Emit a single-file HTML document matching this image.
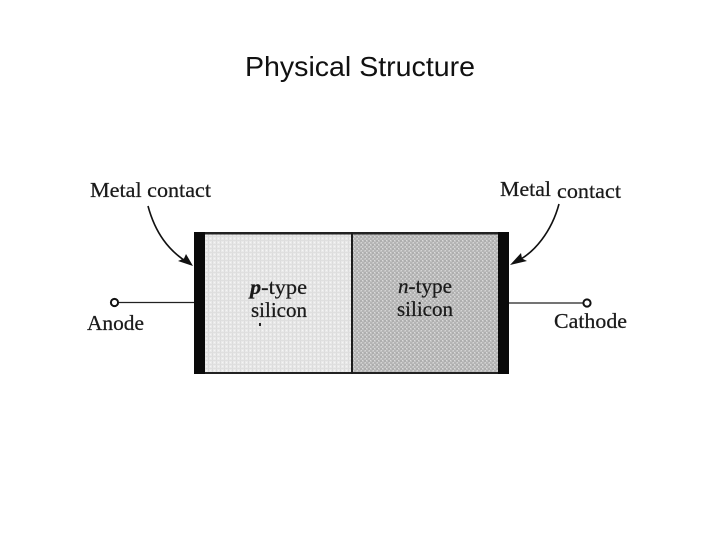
<!DOCTYPE html>
<html>
<head>
<meta charset="utf-8">
<style>
html,body{margin:0;padding:0;background:#fff;}
svg{display:block;}
text{fill:#1a1a1a;}
.s{font-family:"Liberation Serif",serif;font-size:21px;stroke:#1a1a1a;stroke-width:0.25;}
.t{font-family:"Liberation Sans",sans-serif;font-size:28px;fill:#111;}
</style>
</head>
<body>
<svg width="720" height="540" viewBox="0 0 720 540" xmlns="http://www.w3.org/2000/svg">
<defs>
<pattern id="pp" width="4" height="4" patternUnits="userSpaceOnUse">
<rect width="4" height="4" fill="#e9e9e9"/>
<rect width="1" height="4" fill="#dcdcdc"/>
<rect width="4" height="1" fill="#dfdfdf"/>
<rect x="2" y="2" width="1" height="1" fill="#f5f5f5"/>
</pattern>
<pattern id="pn" width="4" height="4" patternUnits="userSpaceOnUse">
<rect width="4" height="4" fill="#c2c2c2"/>
<rect width="2" height="2" fill="#aeaeae"/>
<rect x="2" y="2" width="2" height="2" fill="#b4b4b4"/>
<rect x="2" width="1" height="1" fill="#dadada"/>
<rect y="2" x="1" width="1" height="1" fill="#d4d4d4"/>
</pattern>
</defs>

<text class="t" x="245" y="76" textLength="230" lengthAdjust="spacingAndGlyphs">Physical Structure</text>

<rect x="205" y="234" width="146" height="138" fill="url(#pp)"/>
<rect x="353" y="234" width="145" height="138" fill="url(#pn)"/>
<rect x="194" y="232" width="315" height="2.5" fill="#222"/>
<rect x="194" y="372" width="315" height="2" fill="#222"/>
<rect x="194" y="232" width="11" height="142" fill="#0a0a0a"/>
<rect x="498" y="232" width="11" height="142" fill="#0a0a0a"/>
<rect x="351" y="232" width="2" height="142" fill="#1c1c1c"/>

<path d="M148 206 C155 232 168 251 190 264" fill="none" stroke="#111" stroke-width="1.6"/>
<path d="M193 266 L178 261 L184 258.5 L186 254 Z" fill="#111"/>
<path d="M559 204 C552 230 535 254 513 263" fill="none" stroke="#111" stroke-width="1.6"/>
<path d="M510 265 L521 253 L522 258.5 L527 261 Z" fill="#111"/>

<line x1="119" y1="302.5" x2="194" y2="302.5" stroke="#222" stroke-width="1.2"/>
<circle cx="114.5" cy="302.5" r="3.6" fill="#fff" stroke="#111" stroke-width="2"/>
<line x1="509" y1="303" x2="583" y2="303" stroke="#222" stroke-width="1.2"/>
<circle cx="587" cy="303" r="3.6" fill="#fff" stroke="#111" stroke-width="2"/>

<text class="s" x="90" y="197" textLength="121" lengthAdjust="spacingAndGlyphs">Metal contact</text>
<text class="s" x="500" y="196" textLength="51" lengthAdjust="spacingAndGlyphs">Metal</text>
<text class="s" x="557" y="198" textLength="64" lengthAdjust="spacingAndGlyphs">contact</text>
<text class="s" x="87" y="330" textLength="57" lengthAdjust="spacingAndGlyphs">Anode</text>
<text class="s" x="554" y="328" textLength="73" lengthAdjust="spacingAndGlyphs">Cathode</text>

<text class="s" x="250" y="294" textLength="57" lengthAdjust="spacingAndGlyphs"><tspan font-style="italic" font-weight="bold">p</tspan>-type</text>
<text class="s" x="251" y="317" textLength="56" lengthAdjust="spacingAndGlyphs">silicon</text>
<rect x="259" y="323" width="2" height="3" fill="#222"/>
<text class="s" x="398" y="293" textLength="54" lengthAdjust="spacingAndGlyphs"><tspan font-style="italic">n</tspan>-type</text>
<text class="s" x="397" y="316" textLength="56" lengthAdjust="spacingAndGlyphs">silicon</text>
</svg>
</body>
</html>
